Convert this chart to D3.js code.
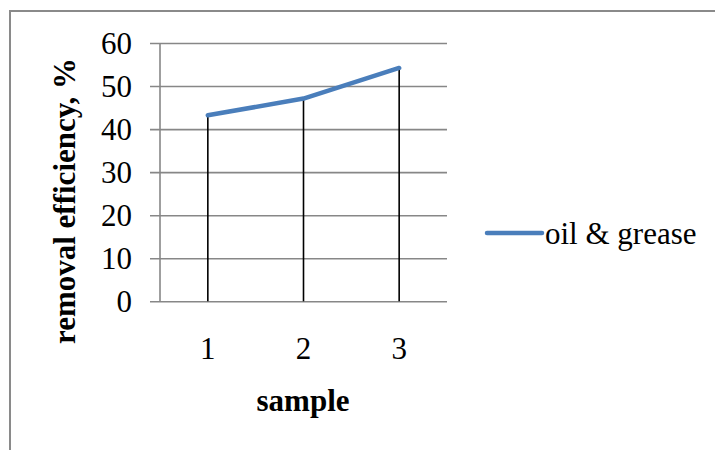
<!DOCTYPE html>
<html>
<head>
<meta charset="utf-8">
<script src="https://cdn.jsdelivr.net/npm/d3@7"></script>
<style>
  html, body { margin: 0; padding: 0; background: #fff; }
  svg { display: block; }
  svg text { font-family: "Liberation Serif", "Times New Roman", serif !important; fill: #000; }
</style>
</head>
<body>
<svg id="chart" width="715" height="450"></svg>
<script>
// Removal efficiency per sample
const samples = ["1", "2", "3"];
const oilGrease = [43.2, 47.1, 54.2];
const yTicks = [0, 10, 20, 30, 40, 50, 60];
const seriesName = "oil & grease";

const svg = d3.select("#chart");
const fontSize = "31px";

// outer frame
svg.append("path")
  .attr("d", "M10,452 L10,11 L717,11")
  .attr("fill", "none")
  .attr("stroke", "#8a8a8a")
  .attr("stroke-width", 2);

const plot = { left: 160, right: 447, top: 43, bottom: 301.3 };

const x = d3.scaleBand().domain(samples).range([plot.left, plot.right]);
const y = d3.scaleLinear().domain([0, 60]).range([plot.bottom, plot.top]);

// horizontal gridlines with tick stubs, plus y tick labels
const yAxis = d3.axisLeft(y)
  .tickValues(yTicks)
  .tickSize(plot.right - plot.left + 10)
  .tickPadding(0)
  .tickFormat(d3.format("d"));

const gy = svg.append("g")
  .attr("transform", `translate(${plot.right},0)`)
  .call(yAxis);
gy.attr("font-family", null).attr("font-size", null);
gy.select(".domain").remove();
gy.selectAll(".tick line")
  .attr("stroke", "#878787")
  .attr("stroke-width", 1.6);
gy.selectAll(".tick text")
  .attr("x", -(plot.right - plot.left) - 28)
  .attr("dy", "0.34em")
  .style("font-size", fontSize);

// vertical axis line
svg.append("line")
  .attr("x1", plot.left).attr("x2", plot.left)
  .attr("y1", plot.top).attr("y2", plot.bottom)
  .attr("stroke", "#878787")
  .attr("stroke-width", 1.6);

// x tick labels
const xAxis = d3.axisBottom(x).tickSize(0).tickPadding(0);
const gx = svg.append("g")
  .attr("transform", `translate(0,${plot.bottom})`)
  .call(xAxis);
gx.attr("font-family", null).attr("font-size", null);
gx.select(".domain").remove();
gx.selectAll(".tick text")
  .attr("y", 47)
  .attr("dy", "0.34em")
  .style("font-size", fontSize);

// drop lines from each point to the baseline
svg.append("g").selectAll("line")
  .data(oilGrease)
  .join("line")
  .attr("x1", (d, i) => x(samples[i]) + x.bandwidth() / 2)
  .attr("x2", (d, i) => x(samples[i]) + x.bandwidth() / 2)
  .attr("y1", d => y(d))
  .attr("y2", y(0))
  .attr("stroke", "#000")
  .attr("stroke-width", 1.6);

// series line
const line = d3.line()
  .x((d, i) => x(samples[i]) + x.bandwidth() / 2)
  .y(d => y(d));

svg.append("path")
  .datum(oilGrease)
  .attr("d", line)
  .attr("fill", "none")
  .attr("stroke", "#4a7ebb")
  .attr("stroke-width", 4.5)
  .attr("stroke-linecap", "round")
  .attr("stroke-linejoin", "round");

// axis titles
svg.append("text")
  .attr("x", 303)
  .attr("y", 411)
  .attr("text-anchor", "middle")
  .style("font-size", fontSize)
  .style("font-weight", "bold")
  .text("sample");

svg.append("text")
  .attr("transform", "translate(75,201) rotate(-90)")
  .attr("text-anchor", "middle")
  .style("font-size", fontSize)
  .style("font-weight", "bold")
  .text("removal efficiency, %");

// legend
const legend = svg.append("g").attr("transform", "translate(487,233)");
legend.append("line")
  .attr("x1", 0).attr("x2", 55)
  .attr("y1", 0).attr("y2", 0)
  .attr("stroke", "#4a7ebb")
  .attr("stroke-width", 4.5)
  .attr("stroke-linecap", "round");
legend.append("text")
  .attr("x", 58)
  .attr("y", 11)
  .style("font-size", fontSize)
  .text(seriesName);
</script>
</body>
</html>
